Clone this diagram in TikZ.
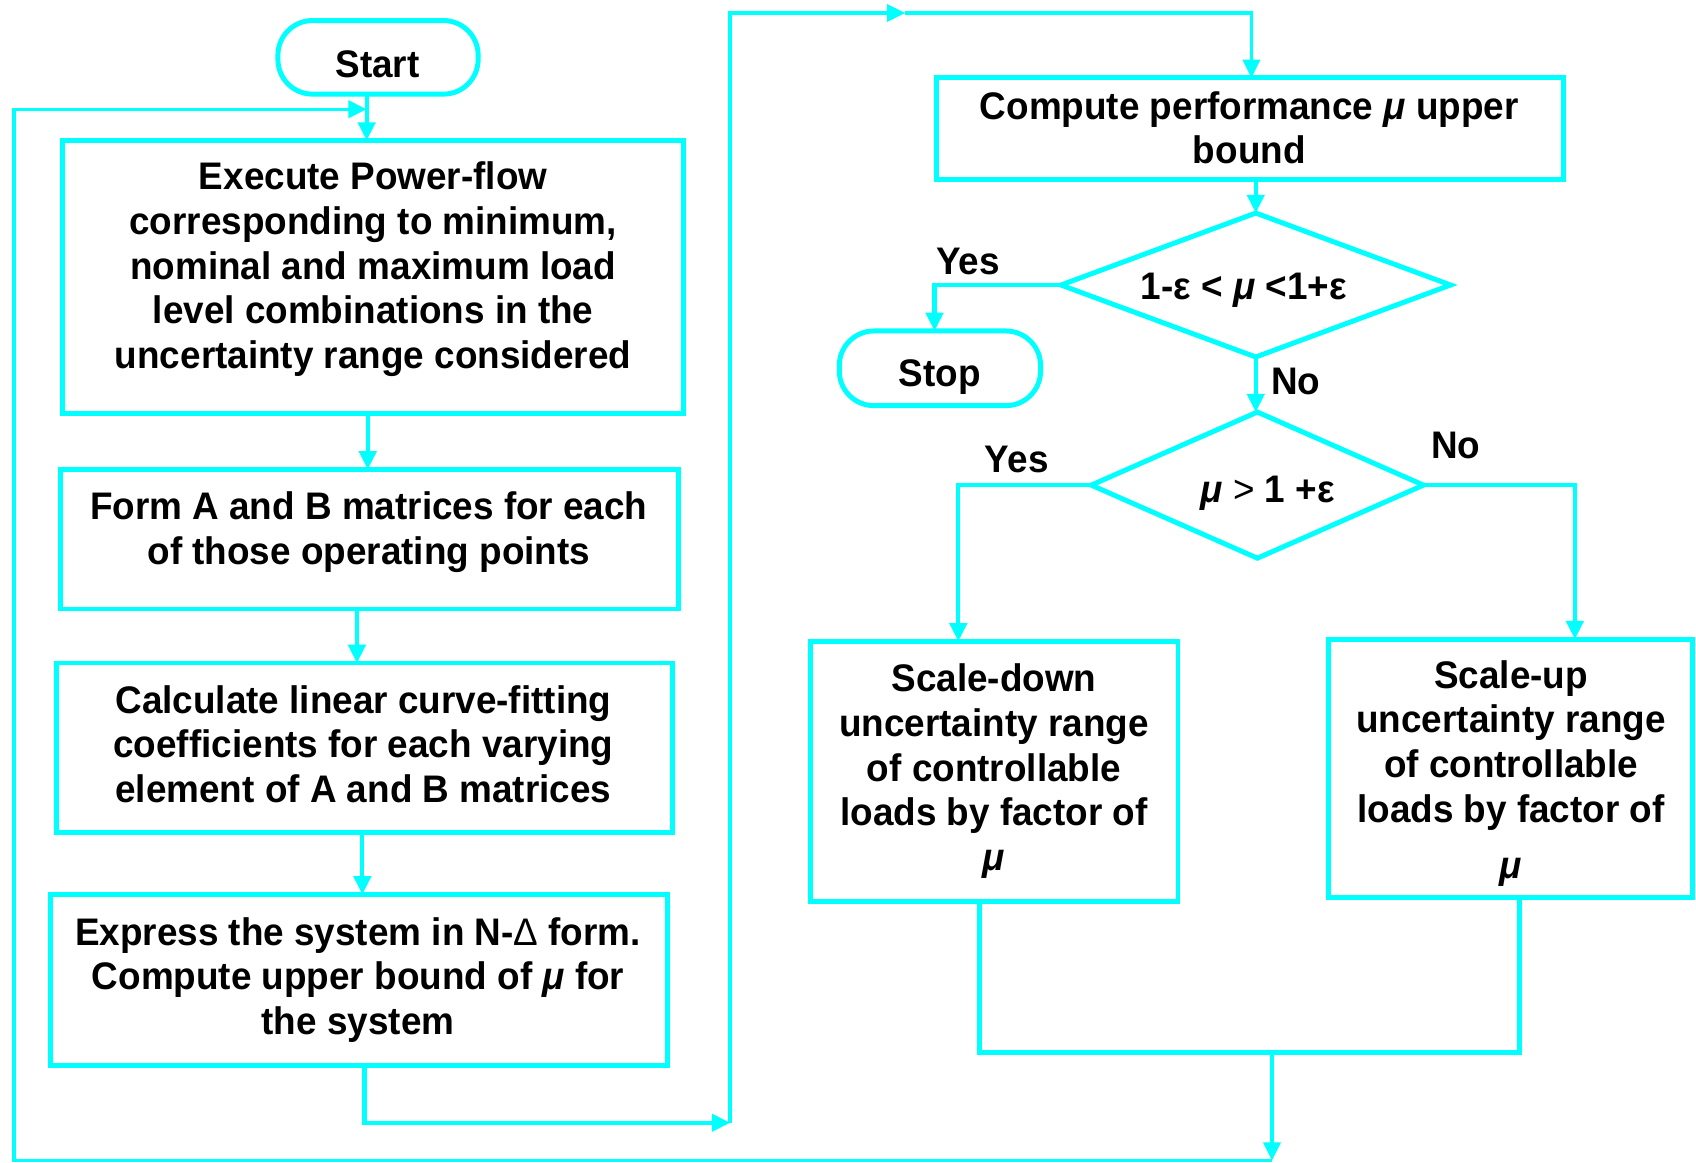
\documentclass[tikz,border=0pt]{standalone}
\usepackage{fontspec}
\setmainfont{Liberation Sans}[FakeStretch=0.96]
\usetikzlibrary{shapes.geometric,arrows.meta}
\definecolor{flow}{RGB}{0,255,255}
\tikzset{
  box/.style={draw=flow, line width=1.3pt, rectangle, inner sep=0pt, outer sep=0pt},
  term/.style={box, rounded corners=0.32cm},
  dia/.style={draw=flow, line width=1.3pt, diamond, inner sep=0pt, outer sep=0pt},
  txt/.style={font=\fontsize{10.1pt}{11.74pt}\selectfont\bfseries, align=center, inner sep=0pt, text=black},
  conn/.style={draw=flow, line width=1.1pt},
  arr/.style={conn, -{Triangle[length=4.8pt,width=4.5pt]}},
  loop/.style={arr, line width=0.9pt},
}
\newcommand{\mumark}{\textit{μ}}
\begin{document}
\begin{tikzpicture}[x=0.01cm,y=-0.01cm]
\useasboundingbox (0,0) rectangle (1568,1075);

% shapes
\node[term, minimum width=1.85cm, minimum height=0.68cm] (start) at (349.5,53) {};
\node[box, minimum width=5.74cm, minimum height=2.52cm] (exec) at (345,256) {};
\node[box, minimum width=5.71cm, minimum height=1.29cm] (form) at (341.5,498.5) {};
\node[box, minimum width=5.70cm, minimum height=1.57cm] (calc) at (337,691.5) {};
\node[box, minimum width=5.70cm, minimum height=1.58cm] (expr) at (332,906) {};
\node[box, minimum width=5.79cm, minimum height=0.94cm] (perf) at (1155.5,119) {};
\node[dia, minimum width=3.60cm, minimum height=1.33cm] (d1) at (1161,263.5) {};
\node[term, minimum width=1.86cm, minimum height=0.69cm] (stop) at (869,340.5) {};
\node[dia, minimum width=3.07cm, minimum height=1.35cm] (d2) at (1162.5,448.5) {};
\node[box, minimum width=3.40cm, minimum height=2.40cm] (down) at (919,713) {};
\node[box, minimum width=3.37cm, minimum height=2.39cm] (up) at (1396.5,710.5) {};

% texts
\node[txt] (t-start) at (349,59) {Start};
\node[txt] (t-exec) at (345,249) {Execute Power-flow\\corresponding to minimum,\\nominal and maximum load\\level combinations in the\\uncertainty range considered};
\node[txt] (t-form) at (341,492) {Form A and B matrices for each\\of those operating points};
\node[txt] (t-calc) at (336,688) {Calculate linear curve-fitting\\coefficients for each varying\\element of A and B matrices};
\node[txt] (t-expr) at (331,906) {Express the system in N-{\mdseries Δ} form.\\Compute upper bound of \mumark{} for\\the system};
\node[txt] (t-perf) at (1155,118) {Compute performance \mumark{} upper\\bound};
\node[txt] (t-d1) at (1150,268) {1-ε < \mumark{} <1+ε};
\node[txt] (t-stop) at (869,349) {Stop};
\node[txt] (t-d2) at (1172,456) {\mumark{} {\mdseries >} 1 +ε};
\node[txt] (t-down) at (919,713) {Scale-down\\uncertainty range\\of controllable\\loads by factor of\\\mumark};
\node[txt] (t-up) at (1397,715) {Scale-up\\uncertainty range\\of controllable\\loads by factor of\\[3pt]\mumark};
\node[txt] (yes1) at (895,242) {Yes};
\node[txt] (no1) at (1198,353) {No};
\node[txt] (yes2) at (940,425) {Yes};
\node[txt] (no2) at (1346,412) {No};

% connector columns and corners
\coordinate (xa) at (339,0);
\coordinate (xb) at (340,0);
\coordinate (xc) at (330,0);
\coordinate (xd) at (335,0);
\coordinate (xe) at (337,0);
\coordinate (xp) at (1157,0);
\coordinate (xs) at (864,0);
\coordinate (xl) at (886,0);
\coordinate (xr) at (1456,0);
\coordinate (xm) at (906,0);
\coordinate (xn) at (1405,0);
\coordinate (c1) at (675,1038);
\coordinate (c2) at (675,12);
\coordinate (c3) at (837,12);
\coordinate (m) at (1176,973);
\coordinate (b) at (1176,1073);
\coordinate (bl) at (13,1073);
\coordinate (tl) at (13,101);
\coordinate (fb) at (339,101);

% left column
\draw[arr] (start.south -| xa) -- (exec.north -| xa);
\draw[arr] (exec.south -| xb) -- (form.north -| xb);
\draw[arr] (form.south -| xc) -- (calc.north -| xc);
\draw[arr] (calc.south -| xd) -- (expr.north -| xd);
\draw[arr] (expr.south -| xe) |- (c1);
\draw[loop] (c1) -- (c2) -- (c3);
\draw[loop] (c3) -| (perf.north -| xp);

% right column
\draw[arr] (perf.south -| d1.north) -- (d1.north);
\draw[arr] (d1.west) -| (stop.north -| xs);
\draw[arr] (d1.south) -- (d1.south |- d2.north);
\draw[arr] (d2.west) -| (down.north -| xl);
\draw[arr] (d2.east) -| (up.north -| xr);
\draw[conn, line width=1.3pt] (down.south -| xm) |- (m);
\draw[conn, line width=1.3pt] (up.south -| xn) |- (m);

% feedback loop
\draw[loop] (m) -- (b);
\draw[loop] (b) -- (bl) -- (tl) -- (fb);
\end{tikzpicture}
\end{document}
